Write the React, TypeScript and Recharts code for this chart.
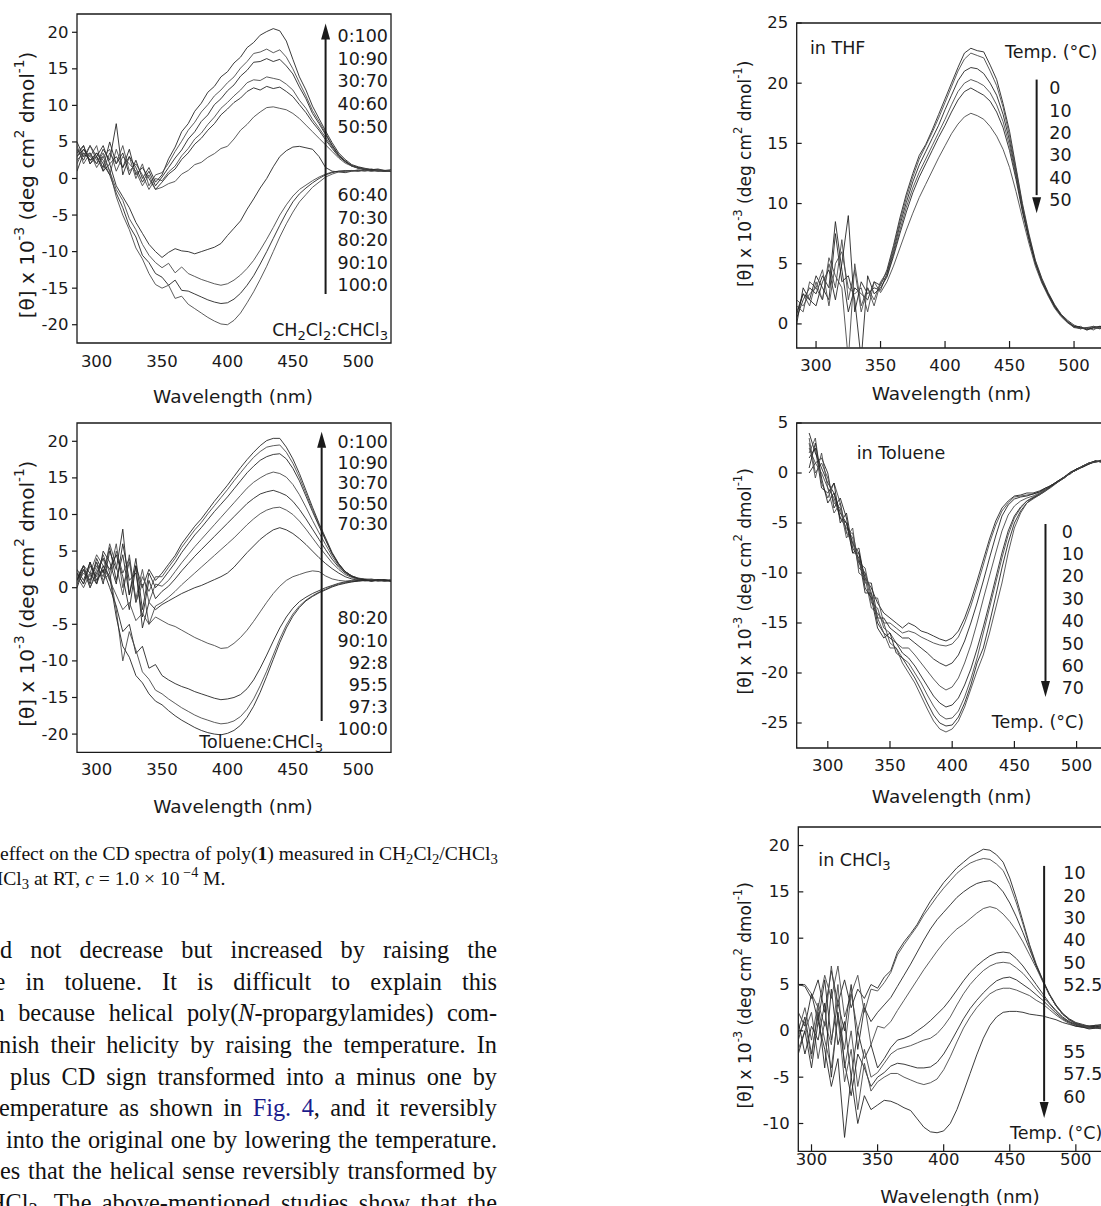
import { LineChart, Line, XAxis, YAxis, ReferenceArea, ReferenceLine, ReferenceDot } from 'recharts'
import type { ReactNode, CSSProperties } from 'react'

const SANS = '"DejaVu Sans", "Liberation Sans", Arial, sans-serif'
const SERIF = '"Liberation Serif", "Times New Roman", serif'
const INK = '#1a1a1a'

// wavelength grid (nm)
const WL = [285, 290, 295, 300, 305, 310, 315, 320, 325, 330, 335, 340, 345, 350, 355, 360, 365, 370, 375, 380, 385, 390, 395, 400, 405, 410, 415, 420, 425, 430, 435, 440, 445, 450, 455, 460, 465, 470, 475, 480, 485, 490, 495, 500, 505, 510, 515, 520, 525]
const WL_CHCL3 = [290, 295, 300, 305, 310, 315, 320, 325, 330, 335, 340, 345, 350, 355, 360, 365, 370, 375, 380, 385, 390, 395, 400, 405, 410, 415, 420, 425, 430, 435, 440, 445, 450, 455, 460, 465, 470, 475, 480, 485, 490, 495, 500, 505, 510, 515, 520, 525]
const X_TICKS = [300, 350, 400, 450, 500]

// CH2Cl2:CHCl3 mixtures
const DCM_RATIOS = ['0:100', '10:90', '30:70', '40:60', '50:50', '60:40', '70:30', '80:20', '90:10', '100:0']
const dcm0_100 = [4, 2.5, 4.5, 3, 1.5, 5, 2, 3.5, 0.5, 2.5, 0, 1.5, -0.5, 0.5, 2.7, 4.3, 6.4, 7.5, 9.2, 10.3, 11.8, 12.6, 13.9, 14.6, 15.8, 16.6, 17.9, 18.6, 19.6, 20.1, 20.5, 20.2, 18.8, 16.3, 13.9, 12.1, 9.9, 8.2, 6.5, 4.9, 3.5, 2.6, 1.9, 1.6, 1.4, 1.2, 1.3, 1.1, 1.2]
const dcm10_90 = [3, 4.5, 2, 3.5, 2.5, 0.5, 4, 1.5, 3, 0, 2, -1, 0.5, 0.8, 2.1, 3.7, 5.1, 6.6, 7.7, 9.1, 10.1, 11.3, 12.1, 13.1, 13.9, 15.1, 16.0, 17.1, 17.3, 17.7, 17.2, 17.6, 16.6, 15.0, 13.1, 11.3, 9.3, 7.8, 6.2, 4.6, 3.3, 2.4, 1.8, 1.5, 1.3, 1.2, 1.0, 1.1, 1.0]
const dcm30_70 = [5, 3, 3.5, 2, 4, 2.5, 7.5, 0.5, 3, 1.5, -0.5, 1, -1, 0.2, 1.5, 2.8, 3.9, 5.4, 6.4, 7.8, 8.7, 10.1, 10.9, 12.0, 12.8, 14.0, 14.8, 15.9, 16.0, 16.4, 16.0, 16.3, 15.4, 14.3, 12.5, 10.9, 8.9, 7.5, 6.0, 4.5, 3.2, 2.4, 1.7, 1.5, 1.3, 1.2, 1.2, 1.0, 1.1]
const dcm40_60 = [2, 4, 3, 4.5, 1, 3.5, 2, 4.5, 1, 2, 0.5, -1.5, 0, -0.3, 0.9, 1.7, 3.1, 4.1, 5.4, 6.2, 7.4, 8.4, 9.6, 10.4, 11.3, 12.1, 13.1, 13.5, 13.4, 13.9, 13.7, 13.5, 12.9, 12.1, 10.7, 9.6, 8.1, 6.9, 5.6, 4.3, 3.1, 2.3, 1.8, 1.4, 1.3, 1.1, 1.2, 1.0, 1.1]
const dcm50_50 = [1, 3.5, 2.5, 3, 4.5, 2, 3, 1.5, 4, 0.5, 1.5, 0, -1.5, -0.5, 0.6, 1.3, 2.6, 3.5, 4.7, 5.5, 6.6, 7.5, 8.7, 9.5, 10.4, 11.0, 11.9, 12.4, 12.1, 12.6, 12.3, 12.5, 11.9, 11.2, 10.1, 9.0, 7.7, 6.6, 5.3, 4.1, 3.0, 2.3, 1.7, 1.4, 1.2, 1.3, 1.1, 1.0, 1.1]
const dcm60_40 = [4.5, 2, 3.5, 1.5, 3, 4, 1, 3, 2, 1, -1, 0.5, -1.5, -1.2, -0.7, -0.4, 0.6, 1.1, 1.9, 2.2, 2.9, 3.4, 4.1, 4.4, 5.4, 6.6, 7.4, 8.4, 9.1, 9.7, 9.8, 9.6, 9.4, 8.9, 8.2, 7.3, 6.4, 5.5, 4.6, 3.7, 2.8, 2.1, 1.7, 1.4, 1.3, 1.2, 1.1, 1.1, 1.0]
const dcm70_30 = [3.5, 4.5, 2, 3, 1, 2, -1, -2.5, -4, -6, -7.5, -9, -10, -10.8, -10.1, -9.6, -9.9, -10, -10.3, -10, -9.7, -9.4, -8.9, -7.8, -6.8, -5.8, -4.2, -2.8, -1.3, 0, 1.6, 3, 3.8, 4.3, 4.4, 4.2, 4.0, 3.0, 1.5, 1.0, 0.9, 0.8, 1.0, 1.1, 1.0, 1.2, 1.1, 1.0, 1.1]
const dcm80_20 = [4, 3, 4.5, 2.5, 3, 1, -1.5, -3, -5.5, -7, -9, -10.5, -11.5, -12.2, -11.6, -12.9, -12.1, -13.0, -13.4, -13.8, -14.1, -14.4, -14.6, -14.4, -13.9, -13.2, -12.3, -11.2, -9.8, -8.3, -6.7, -5.0, -3.6, -2.4, -1.5, -0.9, -0.3, 0.2, 0.6, 0.9, 1.0, 1.1, 1.0, 1.2, 1.1, 1.0, 1.2, 1.1, 1.0]
const dcm90_10 = [3, 4, 2.5, 3.5, 2, 0.5, -2, -4, -6.5, -8, -10.5, -11.5, -13, -13.5, -14.6, -13.9, -15.3, -15.4, -15.8, -16.2, -16.6, -16.9, -17.1, -17.0, -16.5, -15.7, -14.6, -13.3, -11.7, -10, -8.2, -6.4, -4.7, -3.2, -2.1, -1.3, -0.6, 0, 0.5, 0.8, 1.0, 1.0, 1.1, 1.0, 1.2, 1.1, 1.0, 1.1, 1.0]
const dcm100_0 = [2.5, 3.5, 3, 2, 3.5, 1, -2.5, -5, -7, -9.5, -11, -13, -14.5, -15, -14.6, -16.4, -16.1, -17.2, -17.8, -18.4, -19, -19.5, -19.9, -20, -19.4, -18.4, -17, -15.5, -13.8, -12, -10, -8.0, -6.2, -4.6, -3.2, -2.2, -1.2, -0.5, 0.2, 0.6, 0.9, 1.0, 1.1, 1.0, 1.2, 1.0, 1.1, 1.0, 1.1]

// Toluene:CHCl3 mixtures
const TOL_RATIOS = ['0:100', '10:90', '30:70', '50:50', '70:30', '80:20', '90:10', '92:8', '95:5', '97:3', '100:0']
const tol0_100 = [1, 3, 0.5, 4, 2, 5.5, 1, 4.5, -1, 3, 0, 2.5, 1, 2, 3.2, 4.4, 6, 7.2, 8.4, 9.4, 10.6, 11.8, 12.9, 14, 15.2, 16.4, 17.5, 18.5, 19.4, 20.1, 20.4, 20.4, 19.2, 17.6, 15.6, 13.3, 11.0, 8.8, 6.8, 4.8, 3.3, 2.2, 1.6, 1.3, 1.2, 1.1, 1.0, 1.1, 0.9]
const tol10_90 = [2, 0.5, 3, 1.5, 4.5, 2, 6, 0, 3.5, -2, 1.5, -0.5, 1.5, 1.5, 2.8, 4, 5.5, 6.7, 7.9, 8.9, 10.1, 11.2, 12.3, 13.4, 14.6, 15.7, 16.8, 17.8, 18.6, 19.2, 19.4, 19.5, 18.5, 17, 15.1, 12.9, 10.7, 8.6, 6.6, 4.7, 3.2, 2.2, 1.6, 1.3, 1.1, 1.2, 1.0, 1.0, 1.1]
const tol30_70 = [0, 2.5, 1, 3.5, 0.5, 5, 2.5, 8, -1, 4, -3, 2, 0, 1, 2.2, 3.4, 4.8, 6, 7.2, 8.2, 9.3, 10.4, 11.4, 12.4, 13.5, 14.6, 15.7, 16.6, 17.4, 17.9, 18.2, 18.3, 17.6, 16.3, 14.6, 12.5, 10.4, 8.4, 6.5, 4.6, 3.2, 2.2, 1.6, 1.2, 1.1, 1.0, 1.1, 1.0, 0.9]
const tol50_50 = [1.5, 0, 2, 4.5, 3, 1, 5, 2, 4, -1.5, 2.5, -2, 0.5, 0.2, 1, 2.2, 3.4, 4.5, 5.6, 6.6, 7.6, 8.6, 9.6, 10.6, 11.6, 12.6, 13.6, 14.4, 15, 15.5, 15.8, 15.6, 15.1, 14.1, 12.7, 11, 9.2, 7.5, 5.9, 4.3, 3.0, 2.1, 1.5, 1.2, 1.1, 1.0, 1.1, 0.9, 1.0]
const tol70_30 = [2.5, 1, 3.5, 0.5, 5, 3.5, 0.5, 6, 1, 2, -4, 1, -1.5, -0.5, 0.2, 1.2, 2.3, 3.3, 4.3, 5.2, 6.1, 7, 7.9, 8.8, 9.7, 10.6, 11.5, 12.2, 12.8, 13.1, 13.3, 13, 12.6, 11.8, 10.7, 9.4, 8, 6.6, 5.2, 3.9, 2.8, 2.0, 1.5, 1.2, 1.0, 1.1, 1.0, 0.9, 1.0]
const tol80_20 = [0.5, 2, 1, 3, 1.5, 6, 3, -1, 4.5, -2, 0.5, -5, -2.5, -2, -1.3, -0.5, 0.4, 1.2, 2, 2.8, 3.6, 4.4, 5.2, 6, 6.8, 7.7, 8.6, 9.4, 10.1, 10.6, 10.9, 11, 10.6, 10, 9.1, 8, 6.8, 5.6, 4.5, 3.4, 2.5, 1.8, 1.4, 1.1, 1.0, 1.1, 0.9, 1.0, 1.0]
const tol90_10 = [1, 2.5, 0, 2, 4, 2.5, 4.5, 1.5, -3, 3, -5.5, -2, -3, -2.3, -1.8, -1.3, -0.8, -0.4, 0, 0.3, 0.7, 1.1, 1.5, 2, 2.8, 3.8, 4.8, 5.7, 6.6, 7.3, 7.9, 8.2, 7.9, 7.4, 6.7, 5.9, 5, 4.1, 3.3, 2.6, 2.0, 1.5, 1.2, 1.0, 1.1, 0.9, 1.0, 1.0, 0.9]
const tol92_8 = [1.5, 3, 0, 2.5, 4, 1, -1, -3, -2, -4.5, -3.5, -5, -4, -4.5, -5, -5.3, -5.8, -6.3, -6.8, -7.2, -7.6, -7.9, -8.3, -8.2, -7.6, -6.8, -5.8, -4.6, -3.3, -2, -0.8, 0.2, 1, 1.5, 1.8, 2.1, 2.3, 2.2, 1.6, 1.2, 1.0, 0.9, 1.0, 1.1, 0.9, 1.0, 1.1, 0.9, 1.0]
const tol95_5 = [2, 0.5, 3.5, 1, 2.5, 0, -2.5, -6, -5, -9, -8, -11, -10.5, -12, -12.6, -13.1, -13.5, -13.8, -14.2, -14.5, -14.8, -15.1, -15.3, -15.2, -15, -14.6, -13.8, -12.6, -11, -9.2, -7.3, -5.5, -4, -2.8, -1.9, -1.3, -0.8, -0.4, 0, 0.3, 0.6, 0.8, 0.9, 1.0, 1.1, 0.9, 1.0, 1.1, 0.9]
const tol97_3 = [0.5, 2.5, 1.5, 3.5, 1, 2, -3, -10, -6, -8.5, -11.5, -12.5, -14, -14.5, -15.2, -15.8, -16.4, -16.9, -17.4, -17.8, -18.1, -18.4, -18.6, -18.5, -18.2, -17.6, -16.6, -15.2, -13.4, -11.4, -9.2, -7, -5.1, -3.6, -2.5, -1.7, -1.1, -0.6, -0.2, 0.2, 0.5, 0.7, 0.8, 0.9, 1.0, 1.1, 0.9, 1.0, 1.0]
const tol100_0 = [1, 3, 2, 0.5, 3, 1.5, -4, -8, -9.5, -12, -13, -14.5, -15.5, -16, -16.8, -17.5, -18.1, -18.6, -19.1, -19.5, -19.8, -20, -20.1, -19.9, -19.5, -18.8, -17.7, -16.2, -14.3, -12.1, -9.8, -7.5, -5.5, -3.9, -2.7, -1.8, -1.2, -0.7, -0.3, 0.1, 0.4, 0.6, 0.8, 0.9, 1.0, 0.9, 1.1, 1.0, 1.0]

// temperature series (°C)
const THF_TEMPS = ['0', '10', '20', '30', '40', '50']
const thf0 = [0.5, 2, 3, 2.5, 4, 3, 8.5, 4.5, 1, 3, 2.5, 2, 3.5, 3.2, 4.5, 6.5, 8.8, 10.8, 12.5, 14, 14.9, 16.1, 17.4, 18.7, 20, 21.3, 22.5, 22.9, 22.7, 22.6, 21.5, 20.3, 18.3, 16, 13, 10, 7.5, 5.3, 3.8, 2.6, 1.6, 0.8, 0.3, -0.1, -0.3, -0.4, -0.2, -0.3, -0.2]
const thf10 = [1, 2.5, 1.5, 3.5, 2, 5, 3, 7, 2, 4.5, 1, 3, 2, 3.5, 4.3, 6.3, 8.5, 10.5, 12.2, 13.7, 14.8, 15.9, 17.1, 18.4, 19.7, 21, 22, 22.5, 22.3, 22.1, 21, 19.8, 18, 15.6, 12.8, 9.8, 7.3, 5.2, 3.7, 2.5, 1.5, 0.8, 0.2, -0.2, -0.4, -0.3, -0.5, -0.2, -0.3]
const thf20 = [0, 3, 2, 1.5, 3.5, 4.5, 2, 5, 9, 1, 3.5, 2.5, 3, 2.8, 4.2, 6, 8.2, 10.1, 11.8, 13.2, 14.3, 15.4, 16.5, 17.8, 19, 20.2, 21, 21.3, 21.2, 20.8, 20, 19, 17.4, 15.2, 12.5, 9.6, 7.2, 5.1, 3.6, 2.5, 1.5, 0.7, 0.2, -0.3, -0.2, -0.5, -0.3, -0.4, -0.2]
const thf30 = [1.5, 1, 3.5, 3, 2, 5.5, 4, 3, -3, 5, 1.5, 3, 1.5, 3.4, 4, 5.8, 7.8, 9.7, 11.3, 12.6, 13.7, 14.8, 15.9, 17, 18.2, 19.3, 20, 20.3, 20.1, 19.8, 19.2, 18.2, 16.8, 14.8, 12.3, 9.5, 7.1, 5.1, 3.6, 2.4, 1.4, 0.7, 0.2, -0.2, -0.4, -0.3, -0.4, -0.2, -0.3]
const thf40 = [0.8, 2.5, 2, 4, 3, 2, 7.5, 3.5, 4, 2, -3, 4, 2.5, 3, 3.9, 5.6, 7.5, 9.3, 10.9, 12.2, 13.3, 14.4, 15.5, 16.5, 17.6, 18.6, 19.3, 19.6, 19.3, 19, 18.5, 17.6, 16.3, 14.4, 12, 9.3, 7, 5, 3.5, 2.4, 1.4, 0.7, 0.1, -0.2, -0.3, -0.5, -0.3, -0.2, -0.3]
const thf50 = [2, 1.5, 2.5, 3, 4.5, 1.5, 5, 6, 3, 2.5, 3, 1, 3.5, 2.6, 3.5, 4.8, 6.3, 7.8, 9.2, 10.5, 11.6, 12.7, 13.8, 14.8, 15.8, 16.6, 17.2, 17.5, 17.3, 17, 16.4, 15.6, 14.5, 13, 11, 8.8, 6.7, 4.8, 3.4, 2.3, 1.3, 0.6, 0.1, -0.3, -0.4, -0.3, -0.2, -0.4, -0.3]

const TOLUENE_TEMPS = ['0', '10', '20', '30', '40', '50', '60', '70']
const tolT0 = [4, 2, 0.5, -1, -2, -4, -5, -7, -8, -10.5, -11.5, -13, -14, -14.5, -15, -15.5, -15, -15.3, -15.8, -16, -16.3, -16.6, -16.8, -16.5, -15.8, -14.5, -12.8, -10.8, -8.7, -6.6, -4.8, -3.5, -2.8, -2.3, -2.2, -2.0, -2.0, -1.8, -1.5, -1.2, -0.8, -0.4, 0, 0.3, 0.6, 0.9, 1.1, 1.2, 1.0]
const tolT10 = [2, 3.5, -1, -2.5, -1, -3, -6, -6, -9, -9.5, -12.5, -12.5, -15, -15, -15.5, -16, -15.8, -16, -16.4, -16.7, -17, -17.2, -17.3, -17.1, -16.4, -15, -13.3, -11.3, -9.2, -7, -5.2, -3.8, -3, -2.4, -2.3, -2.2, -2.1, -1.9, -1.6, -1.2, -0.9, -0.4, -0.1, 0.4, 0.7, 0.9, 1.2, 1.1, 1.2]
const tolT20 = [0, 1, 1.5, 0, -3.5, -2.5, -4.5, -8, -7.5, -11, -11, -14.5, -14.5, -15.5, -16, -16.5, -16.5, -17, -17.5, -18, -18.6, -19, -19.3, -19, -18.2, -16.8, -15, -13, -10.8, -8.5, -6.3, -4.3, -3.2, -2.6, -2.4, -2.3, -2.1, -1.9, -1.5, -1.3, -0.8, -0.5, 0, 0.3, 0.7, 1.0, 1.1, 1.3, 1.1]
const tolT30 = [3, -0.5, 2, -1.5, -2.5, -4.5, -5.5, -6.5, -9.5, -10, -13, -13.5, -15.5, -16, -17, -17.5, -17.5, -18.2, -19, -19.8, -20.6, -21.3, -21.7, -21.4, -20.5, -19, -17.2, -15, -12.6, -10.3, -8, -5.8, -4.2, -3.3, -2.8, -2.5, -2.3, -2, -1.6, -1.2, -0.9, -0.4, 0, 0.4, 0.6, 1.0, 1.2, 1.1, 1.3]
const tolT40 = [1.5, 2.5, -1.5, -2, -1, -5, -4, -7.5, -8.5, -12, -12, -15, -16, -16.5, -17, -18, -18.5, -19.3, -20.3, -21.3, -22.3, -23, -23.4, -23.2, -22.5, -21.2, -19.6, -17.6, -15.4, -13, -10.5, -8, -5.8, -4.3, -3.4, -2.8, -2.5, -2.1, -1.7, -1.2, -0.8, -0.4, 0.1, 0.4, 0.7, 1.0, 1.2, 1.2, 1.1]
const tolT50 = [3.5, 0, 1, -0.5, -3, -3.5, -6.5, -5.5, -10, -10.5, -13.5, -14, -15, -17, -17.5, -18.5, -19, -20, -21, -22.2, -23.3, -24.2, -24.6, -24.5, -23.8, -22.4, -20.6, -18.5, -16, -13.5, -11, -8.5, -6.2, -4.5, -3.5, -2.8, -2.4, -2.1, -1.7, -1.3, -0.9, -0.4, 0, 0.3, 0.7, 1.0, 1.1, 1.2, 1.2]
const tolT60 = [0.5, 3, -0.5, -3, -2, -4.5, -5, -8, -8, -11.5, -12.5, -15.5, -16.5, -16, -18, -18.5, -19.5, -20.5, -21.7, -23, -24.2, -25, -25.3, -25.2, -24.4, -23, -21.2, -19, -17.5, -15, -12.3, -9.5, -7, -5, -3.8, -3, -2.5, -2.2, -1.8, -1.3, -0.9, -0.5, 0, 0.4, 0.6, 0.9, 1.2, 1.1, 1.2]
const tolT70 = [2.5, 1, 0, -1.5, -4, -3, -6, -7, -9, -10, -12, -14.5, -16, -17.5, -17.5, -19, -20, -21, -22.3, -23.6, -24.8, -25.6, -25.9, -25.6, -24.8, -23.4, -21.6, -19.8, -18.2, -16, -13.5, -11, -8, -5.5, -4, -3, -2.6, -2.2, -1.8, -1.4, -0.9, -0.5, 0, 0.3, 0.7, 1.0, 1.1, 1.2, 1.1]

const CHCL3_TEMPS_HIGH = ['10', '20', '30', '40', '50', '52.5']
const CHCL3_TEMPS_LOW = ['55', '57.5', '60']
const chcl3T10 = [5, 4.8, 3.5, 5.5, 2, 6.5, 3, 5.5, 2.5, 4.5, 3.5, 5, 4.6, 5.8, 6.5, 8.5, 9.6, 10.5, 11.5, 12.8, 14, 15, 16, 16.8, 17.6, 18.2, 18.8, 19.2, 19.6, 19.5, 19, 18.2, 16.5, 14.3, 11.8, 9.3, 7.2, 5.5, 4, 2.8, 1.9, 1.3, 0.9, 0.7, 0.5, 0.6, 0.7, 0.6]
const chcl3T20 = [4.9, 5, 4, 2.5, 6, 3.5, 7, 1.5, 4, 6, 2, 4.5, 4.3, 5.2, 6.3, 8.2, 9.3, 10.3, 11.3, 12.5, 13.5, 14.5, 15.4, 16.2, 17, 17.6, 18.1, 18.4, 18.6, 18.5, 18, 17.3, 15.8, 13.8, 11.5, 9.1, 7.1, 5.4, 3.9, 2.7, 1.8, 1.2, 0.8, 0.6, 0.5, 0.4, 0.6, 0.5]
const chcl3T30 = [2, 0.5, 4, 1, 5.5, -1, 3, 0, 5, -2, 2.5, 1, 2, 2.8, 3.6, 4.8, 6, 7.2, 8.5, 9.8, 11, 12, 12.8, 13.6, 14.4, 15, 15.5, 15.9, 16.1, 16.2, 15.8, 15, 13.8, 12.3, 10.6, 8.8, 7, 5.4, 3.9, 2.7, 1.8, 1.2, 0.8, 0.6, 0.5, 0.6, 0.5, 0.6]
const chcl3T40 = [0, 2.5, -1, 3, 0.5, 7, 1.5, -2, 4, 0, 3, -1.5, 0.5, 0.3, 1, 2.2, 3.3, 4.4, 5.5, 6.6, 7.6, 8.6, 9.5, 10.3, 11, 11.5, 12.1, 12.7, 13.2, 13.4, 13.2, 12.6, 11.8, 10.8, 9.6, 8.2, 6.8, 5.3, 3.9, 2.7, 1.8, 1.2, 0.8, 0.6, 0.5, 0.5, 0.6, 0.5]
const chcl3T50 = [-1, 1.5, -2.5, 2, -4, 4.5, -1.5, 1, -5, 0, -3, -1.5, -4, -3, -1.8, -1, -0.8, -0.5, 0, 0.5, 1.1, 1.8, 2.5, 3.4, 4.4, 5.4, 6.3, 7, 7.6, 8.1, 8.4, 8.5, 8.4, 7.8, 7, 6, 5, 4, 3, 2.2, 1.5, 1, 0.7, 0.5, 0.4, 0.5, 0.4, 0.5]
const chcl3T52 = [-2, 0, 2, -3, 1, -1.5, 5, -4, 0, -6, -2, -5, -4.5, -3.5, -2.5, -2, -1.8, -1.6, -1.3, -1, -0.8, -0.3, 0.5, 1.5, 2.8, 4, 5, 5.8, 6.5, 7, 7.3, 7.4, 7.3, 6.8, 6.2, 5.4, 4.5, 3.7, 2.9, 2.1, 1.4, 1, 0.7, 0.5, 0.4, 0.3, 0.5, 0.4]
const chcl3T55 = [1, -2.5, 0.5, -1, 3, -5, 2, -3.5, -7, -2.5, -4, -6, -5, -4.5, -3.8, -3.5, -3.6, -3.8, -4, -4, -3.9, -3.4, -2.5, -1.3, 0, 1.3, 2.4, 3.3, 4.1, 4.8, 5.4, 5.7, 5.8, 5.5, 5, 4.5, 3.9, 3.3, 2.6, 1.9, 1.3, 0.9, 0.6, 0.4, 0.3, 0.4, 0.3, 0.4]
const chcl3T57 = [-0.5, 1, -3, 2.5, -1, -4, 1.5, -5.5, -2, -8.5, -3.5, -6.5, -5.5, -5, -4.6, -4.6, -5, -5.3, -5.6, -5.8, -5.6, -5.2, -4.2, -2.8, -1.2, 0.3, 1.5, 2.5, 3.3, 4, 4.4, 4.6, 4.6, 4.4, 4.1, 3.8, 3.3, 2.9, 2.3, 1.7, 1.2, 0.8, 0.5, 0.4, 0.3, 0.3, 0.4, 0.3]
const chcl3T60 = [-2.5, 0, -4, 1, -2, -6, -3, -11.5, -5, -10, -7, -8.5, -8, -7.5, -7.6, -7.9, -8.3, -8.6, -9.5, -10.4, -10.9, -11, -10.8, -10, -8.5, -6.6, -4.6, -2.6, -0.8, 0.6, 1.5, 2, 2.1, 2.1, 2, 1.8, 1.7, 1.6, 1.4, 1.2, 0.9, 0.7, 0.5, 0.4, 0.2, 0.3, 0.2, 0.3]

type Arrow = { x: number; from: number; to: number; tip: number; up: boolean }

interface PanelProps {
  left: number
  top: number
  x0: number
  y0: number
  x1: number
  y1: number
  wl: number[]
  series: number[][]
  xDomain: [number, number]
  yDomain: [number, number]
  yTicks: number[]
  inner: boolean
  xTickGap: number
  xTitle: [number, number]
  yTitle: [number, number, number]
  arrow: Arrow
}

function Panel(p: PanelProps) {
  const W = p.x1 - p.left + 10
  const H = p.y1 - p.top + 70
  const rows = p.wl.map((w, i) => {
    const row: Record<string, number> = { w }
    p.series.forEach((s, j) => { row['s' + j] = s[i] })
    return row
  })

  const xTick = (t: any) => (
    <g>
      {p.inner && <line x1={t.x} x2={t.x} y1={t.y} y2={t.y - 7} stroke={INK} strokeWidth={1.2} />}
      <text x={t.x} y={t.y + p.xTickGap} textAnchor="middle" dominantBaseline="central" fontSize={16.5} fontFamily={SANS} fill={INK}>{t.payload.value}</text>
    </g>
  )
  const yTick = (t: any) => (
    <g>
      <line x1={t.x} x2={p.inner ? t.x + 5 : t.x - 5} y1={t.y} y2={t.y} stroke={INK} strokeWidth={1.2} />
      <text x={t.x - 8.5} y={t.y} textAnchor="end" dominantBaseline="central" fontSize={16.5} fontFamily={SANS} fill={INK}>{t.payload.value}</text>
    </g>
  )
  const xTitle = () => (
    <text x={p.xTitle[0] - p.left} y={p.xTitle[1] - p.top} textAnchor="middle" dominantBaseline="central" fontSize={18.5} fontFamily={SANS} fill={INK}>Wavelength (nm)</text>
  )
  const yTitle = () => {
    const cx = p.yTitle[0] - p.left
    const cy = p.yTitle[1] - p.top
    const fs = p.yTitle[2]
    const s = fs * 0.68
    const up = fs * 0.42
    return (
      <text x={cx} y={cy} transform={`rotate(-90 ${cx} ${cy})`} textAnchor="middle" dominantBaseline="central" fontSize={fs} fontFamily={SANS} fill={INK}>
        [θ] x 10<tspan fontSize={s} dy={-up}>-3</tspan>
        <tspan dy={up}> (deg cm</tspan>
        <tspan fontSize={s} dy={-up}>2</tspan>
        <tspan dy={up}> dmol</tspan>
        <tspan fontSize={s} dy={-up}>-1</tspan>
        <tspan dy={up}>)</tspan>
      </text>
    )
  }
  const head = (d: any) => {
    const base = p.arrow.up ? d.cy + 16 : d.cy - 16
    return <polygon points={`${d.cx},${d.cy} ${d.cx - 4.5},${base} ${d.cx + 4.5},${base}`} fill={INK} />
  }

  return (
    <div style={{ position: 'absolute', left: p.left, top: p.top }}>
      <LineChart width={W} height={H} data={rows} margin={{ top: p.y0 - p.top, right: 10, bottom: 0, left: 0 }}>
        <XAxis dataKey="w" type="number" domain={p.xDomain} ticks={X_TICKS} interval={0} allowDataOverflow height={70}
          axisLine={false} tickLine={false} tickSize={0} tickMargin={0} tick={xTick} label={xTitle} />
        <YAxis type="number" domain={p.yDomain} ticks={p.yTicks} interval={0} allowDataOverflow width={p.x0 - p.left}
          axisLine={false} tickLine={false} tickSize={0} tickMargin={0} tick={yTick} label={yTitle} />
        <ReferenceArea x1={p.xDomain[0]} x2={p.xDomain[1]} y1={p.yDomain[0]} y2={p.yDomain[1]}
          fill="none" fillOpacity={0} stroke={INK} strokeWidth={1.3} ifOverflow="visible" />
        {p.series.map((_, j) => (
          <Line key={j} dataKey={'s' + j} type="linear" dot={false} activeDot={false} isAnimationActive={false}
            stroke={j % 2 ? '#4a4a4a' : '#262626'} strokeWidth={0.9} />
        ))}
        <ReferenceLine segment={[{ x: p.arrow.x, y: p.arrow.from }, { x: p.arrow.x, y: p.arrow.to }]}
          stroke={INK} strokeWidth={2} ifOverflow="visible" />
        <ReferenceDot x={p.arrow.x} y={p.arrow.tip} shape={head} ifOverflow="visible" />
      </LineChart>
    </div>
  )
}

function Note({ x, y, right, children }: { x: number; y: number; right?: boolean; children: ReactNode }) {
  const style: CSSProperties = {
    position: 'absolute', top: y - 10, height: 20, lineHeight: '20px', fontSize: 17.5,
    fontFamily: SANS, color: INK, whiteSpace: 'nowrap',
  }
  if (right) style.right = 1101 - x
  else style.left = x
  return <div style={style}>{children}</div>
}

const Sub = ({ children }: { children: ReactNode }) => (
  <sub style={{ fontSize: '0.75em', verticalAlign: '-0.28em', lineHeight: 0 }}>{children}</sub>
)

function Prose({ x, base, size, last = 'justify', nowrap, children }: { x: number; base: number; size: number; last?: 'justify' | 'left'; nowrap?: boolean; children: ReactNode }) {
  return (
    <div style={{
      position: 'absolute', left: x, width: 497 - x, top: base - 0.8375 * size, fontSize: size,
      lineHeight: `${size}px`, fontFamily: SERIF, color: '#111', textAlign: nowrap ? 'left' : 'justify',
      textAlignLast: nowrap ? 'left' : last, whiteSpace: nowrap ? 'nowrap' : 'normal',
    }}>{children}</div>
  )
}

const LEFT_Y_TICKS = [-20, -15, -10, -5, 0, 5, 10, 15, 20]
const PARA_STEP = 31.65

export default function App() {
  return (
    <div style={{ position: 'absolute', left: 0, top: 0, width: 1101, height: 1206, overflow: 'hidden', background: '#fff' }}>
      <Panel left={0} top={4} x0={77} y0={14} x1={391} y1={343} wl={WL}
        series={[dcm0_100, dcm10_90, dcm30_70, dcm40_60, dcm50_50, dcm60_40, dcm70_30, dcm80_20, dcm90_10, dcm100_0]}
        xDomain={[285, 525]} yDomain={[-22.5, 22.5]} yTicks={LEFT_Y_TICKS} inner={false} xTickGap={18.7}
        xTitle={[233, 396.7]} yTitle={[27, 185, 20]} arrow={{ x: 475, from: -15.8, to: 19.3, tip: 21.2, up: true }} />
      <Panel left={0} top={413.3} x0={77} y0={423.3} x1={391} y1={752.7} wl={WL}
        series={[tol0_100, tol10_90, tol30_70, tol50_50, tol70_30, tol80_20, tol90_10, tol92_8, tol95_5, tol97_3, tol100_0]}
        xDomain={[285, 525]} yDomain={[-22.5, 22.5]} yTicks={LEFT_Y_TICKS} inner={false} xTickGap={17.3}
        xTitle={[233, 806.7]} yTitle={[27, 594, 20]} arrow={{ x: 472, from: -18.2, to: 19.2, tip: 21.3, up: true }} />
      <Panel left={700} top={12.7} x0={796.7} y0={22.7} x1={1106.3} y1={347.7} wl={WL}
        series={[thf0, thf10, thf20, thf30, thf40, thf50]}
        xDomain={[285, 525]} yDomain={[-2, 25]} yTicks={[0, 5, 10, 15, 20, 25]} inner xTickGap={17.3}
        xTitle={[951.5, 393]} yTitle={[745, 173.5, 17]} arrow={{ x: 471, from: 20.3, to: 10.7, tip: 9.2, up: false }} />
      <Panel left={700} top={412.7} x0={796.7} y0={422.7} x1={1107.7} y1={747.7} wl={WL}
        series={[tolT0, tolT10, tolT20, tolT30, tolT40, tolT50, tolT60, tolT70]}
        xDomain={[275, 525]} yDomain={[-27.5, 5]} yTicks={[-25, -20, -15, -10, -5, 0, 5]} inner xTickGap={17.3}
        xTitle={[951.7, 796.7]} yTitle={[745, 581, 17]} arrow={{ x: 475, from: -5.1, to: -20.8, tip: -22.4, up: false }} />
      <Panel left={700} top={816.7} x0={798.3} y0={826.7} x1={1108.9} y1={1151} wl={WL_CHCL3}
        series={[chcl3T10, chcl3T20, chcl3T30, chcl3T40, chcl3T50, chcl3T52, chcl3T55, chcl3T57, chcl3T60]}
        xDomain={[290, 525]} yDomain={[-13, 22]} yTicks={[-10, -5, 0, 5, 10, 15, 20]} inner xTickGap={8.5}
        xTitle={[960, 1196.7]} yTitle={[745, 995, 17]} arrow={{ x: 476, from: 17.8, to: -7.6, tip: -9.4, up: false }} />

      {DCM_RATIOS.map((r, i) => (
        <Note key={r} x={388} y={i < 5 ? 36 + i * 22.7 : 195 + (i - 5) * 22.5} right>{r}</Note>
      ))}
      <Note x={388} y={330} right>CH<Sub>2</Sub>Cl<Sub>2</Sub>:CHCl<Sub>3</Sub></Note>

      {TOL_RATIOS.map((r, i) => (
        <Note key={r} x={388} y={i < 5 ? 442 + i * 20.5 : 618.3 + (i - 5) * 22.2} right>{r}</Note>
      ))}
      <Note x={323} y={741.7} right>Toluene:CHCl<Sub>3</Sub></Note>

      <Note x={810} y={48.3}>in THF</Note>
      <Note x={1005} y={51.7}>Temp. (°C)</Note>
      {THF_TEMPS.map((t, i) => <Note key={t} x={1049.3} y={88.3 + i * 22.3}>{t}</Note>)}

      <Note x={856.7} y={453.3}>in Toluene</Note>
      {TOLUENE_TEMPS.map((t, i) => <Note key={t} x={1061.7} y={531.7 + i * 22.37}>{t}</Note>)}
      <Note x={991.7} y={721.7}>Temp. (°C)</Note>

      <Note x={818.3} y={860}>in CHCl<Sub>3</Sub></Note>
      {CHCL3_TEMPS_HIGH.map((t, i) => <Note key={t} x={1063.3} y={873.3 + i * 22.35}>{t}</Note>)}
      {CHCL3_TEMPS_LOW.map((t, i) => <Note key={t} x={1063.3} y={1051.7 + i * 22.5}>{t}</Note>)}
      <Note x={1010} y={1133.3}>Temp. (°C)</Note>

      <Prose x={0} base={860} size={19.6} nowrap>
        effect on the CD spectra of poly(<b>1</b>) measured in CH<Sub>2</Sub>Cl<Sub>2</Sub>/CHCl<Sub>3</Sub>
      </Prose>
      <Prose x={-11} base={885} size={19.6} nowrap>
        HCl<Sub>3</Sub> at RT, <i>c</i> = 1.0 × 10<sup style={{ fontSize: '0.72em', lineHeight: 0 }}> −4</sup> M.
      </Prose>

      <Prose x={0} base={958.3} size={24.3}>d not decrease but increased by raising the</Prose>
      <Prose x={-5.5} base={958.3 + PARA_STEP} size={24.3}>e in toluene. It is difficult to explain this</Prose>
      <Prose x={-7.5} base={958.3 + PARA_STEP * 2} size={24.3}>n because helical poly(<i>N</i>-propargylamides) com-</Prose>
      <Prose x={-1} base={958.3 + PARA_STEP * 3} size={24.3}>nish their helicity by raising the temperature. In</Prose>
      <Prose x={10} base={958.3 + PARA_STEP * 4} size={24.3}>plus CD sign transformed into a minus one by</Prose>
      <Prose x={-1} base={958.3 + PARA_STEP * 5} size={24.3}>
        emperature as shown in <span style={{ color: '#1c1c8c' }}>Fig. 4</span>, and it reversibly
      </Prose>
      <Prose x={6} base={958.3 + PARA_STEP * 6} size={24.3}>into the original one by lowering the temperature.</Prose>
      <Prose x={0} base={958.3 + PARA_STEP * 7} size={24.3}>es that the helical sense reversibly transformed by</Prose>
      <Prose x={-12} base={958.3 + PARA_STEP * 8} size={24.3}>HCl<Sub>3</Sub>. The above-mentioned studies show that the</Prose>
    </div>
  )
}
